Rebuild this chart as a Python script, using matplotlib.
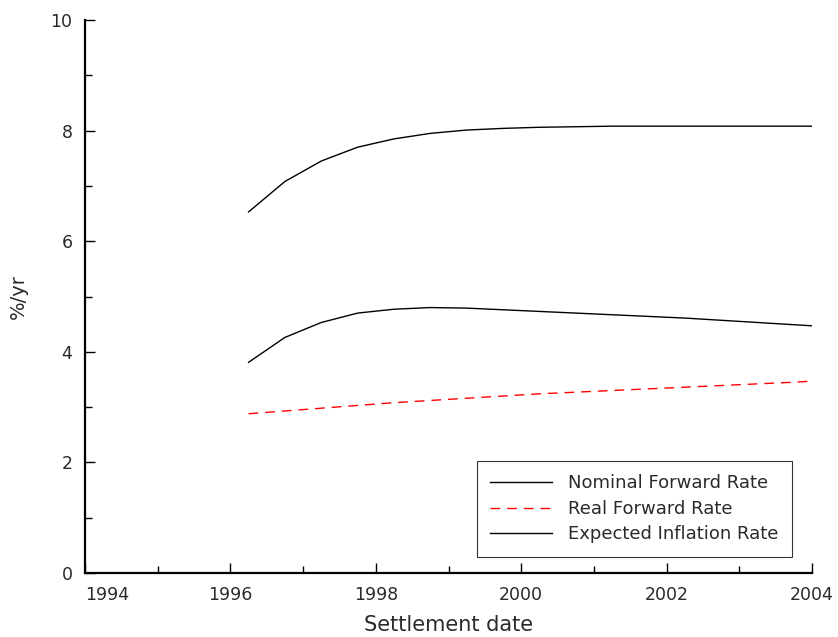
import matplotlib
matplotlib.use("Agg")
import matplotlib.pyplot as plt
from matplotlib.ticker import MultipleLocator

# Datas de liquidação (anos) e taxas em %/ano
datas = [1996.25, 1996.75, 1997.25, 1997.75, 1998.25, 1998.75, 1999.25, 1999.75,
         2000.25, 2000.75, 2001.25, 2001.75, 2002.25, 2002.75, 2003.25, 2003.75, 2004.0]

nominal = [6.53, 7.08, 7.45, 7.70, 7.85, 7.95, 8.01, 8.04,
           8.06, 8.07, 8.08, 8.08, 8.08, 8.08, 8.08, 8.08, 8.08]

real = [2.88, 2.93, 2.98, 3.03, 3.08, 3.12, 3.16, 3.20,
        3.24, 3.27, 3.30, 3.33, 3.36, 3.39, 3.42, 3.45, 3.47]

inflacao = [3.81, 4.26, 4.53, 4.70, 4.77, 4.80, 4.79, 4.76,
            4.73, 4.70, 4.67, 4.64, 4.61, 4.57, 4.53, 4.49, 4.47]

anos_ticks = [1994, 1996, 1998, 2000, 2002, 2004]

plt.rcParams['font.family'] = ['DejaVu Sans']
cor_texto = '#2a2a2a'

fig = plt.figure(figsize=(8.38, 6.37), dpi=100)
ax = fig.add_axes([85 / 838, 1 - 573 / 637, (812 - 85) / 838, (573 - 20) / 637])

ax.plot(datas, nominal, color='black', lw=1.0, label='Nominal Forward Rate')
ax.plot(datas, real, color='red', lw=1.0, dashes=(7, 5), label='Real Forward Rate')
ax.plot(datas, inflacao, color='black', lw=1.0, label='Expected Inflation Rate')

ax.set_xlim(1994, 2004)
ax.set_ylim(0, 10)

ax.spines['top'].set_visible(False)
ax.spines['right'].set_visible(False)
ax.spines['left'].set_linewidth(1.6)
ax.spines['bottom'].set_linewidth(1.6)

ax.set_xticks(anos_ticks)
ax.set_xticklabels([str(a) for a in anos_ticks])
ax.xaxis.set_minor_locator(MultipleLocator(1))
ax.yaxis.set_major_locator(MultipleLocator(2))
ax.yaxis.set_minor_locator(MultipleLocator(1))

ax.tick_params(which='major', direction='in', length=7, width=1.0,
               labelsize=12.5, labelcolor=cor_texto, pad=9)
ax.tick_params(which='minor', direction='in', length=5, width=1.0)

# o rótulo 1994 fica encostado à direita do eixo
rotulos_x = ax.get_xticklabels()
rotulos_x[0].set_horizontalalignment('left')

ax.set_xlabel('Settlement date', fontsize=15, color=cor_texto, labelpad=8)
ax.set_ylabel('%/yr', fontsize=14, color=cor_texto, labelpad=16)

leg = ax.legend(loc='lower right', bbox_to_anchor=(792 / 838, 1 - 557 / 637),
                bbox_transform=fig.transFigure, fontsize=13, frameon=True,
                fancybox=False, handlelength=3.4, handletextpad=0.9,
                borderpad=0.75, labelspacing=0.42, borderaxespad=0)
leg.get_frame().set_edgecolor('black')
leg.get_frame().set_linewidth(0.8)
for t in leg.get_texts():
    t.set_color(cor_texto)

plt.savefig('out.png', dpi=100)
